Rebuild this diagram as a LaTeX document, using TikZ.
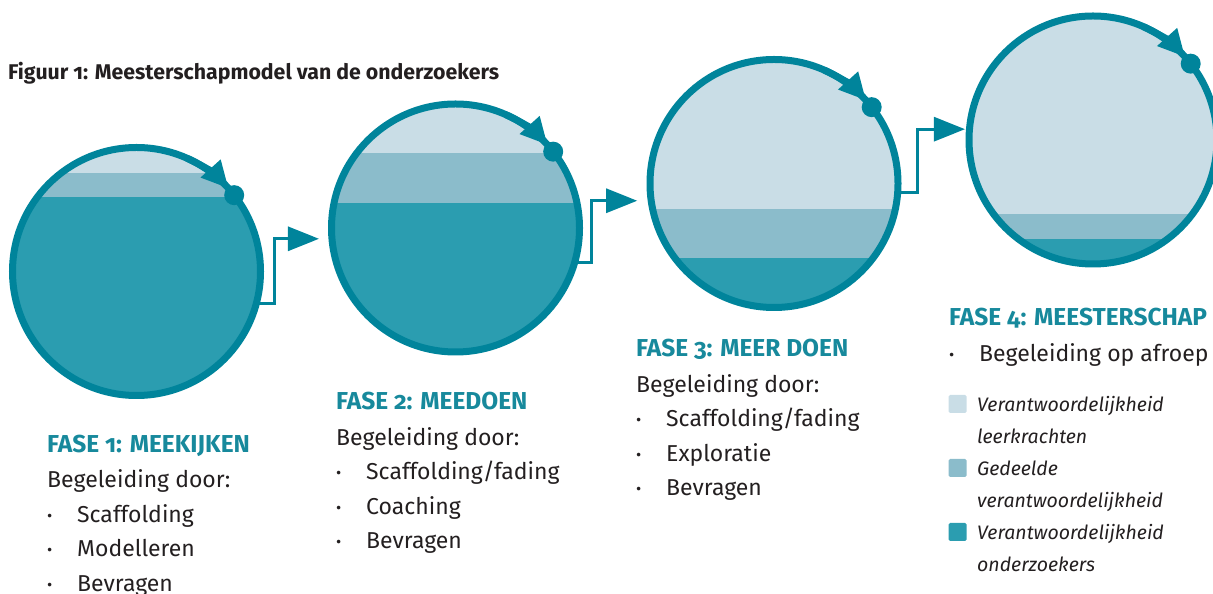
\documentclass[tikz,border=0pt]{standalone}
\usepackage{fontspec}
\setmainfont{Fira Sans}[Numbers=OldStyle]
\usepackage{tikz}
\usetikzlibrary{arrows.meta, positioning}
\definecolor{ringteal}{RGB}{0,132,155}
\definecolor{darkband}{RGB}{43,157,176}
\definecolor{midband}{RGB}{139,188,203}
\definecolor{lightband}{RGB}{201,221,230}
\definecolor{headteal}{RGB}{23,137,156}
\definecolor{textgray}{RGB}{35,31,32}
\newcommand{\fasebullet}{\makebox[30pt][l]{\fontsize{16}{16}\selectfont\raisebox{1pt}{•}}}

\begin{document}
\begin{tikzpicture}[
  x=1pt, y=1pt,
  every node/.style={inner sep=0pt, text=textgray},
  fasecircle/.style 2 args={circle, draw=ringteal, fill=lightband, line width=7pt,
               minimum size=248pt, inner sep=0pt, outer sep=0pt,
               path picture={
                 \fill[midband] ([shift={(-130,-130)}]path picture bounding box.center)
                   rectangle ([shift={(130,#1)}]path picture bounding box.center);
                 \fill[darkband] ([shift={(-130,-130)}]path picture bounding box.center)
                   rectangle ([shift={(130,#2)}]path picture bounding box.center);
               }},
  ringdot/.style={circle, fill=ringteal, minimum size=20pt, inner sep=0pt},
  ringarr/.style={-{Triangle[length=27pt, width=25pt]}, line width=7pt, ringteal},
  conn/.style={-{Triangle[length=31pt, width=24pt]}, line width=3pt, ringteal},
  fasehead/.style={font=\fontsize{24.5}{24.5}\selectfont\bfseries, text=headteal, anchor=base west},
  fasebody/.style={font=\fontsize{23}{34.5}\selectfont, align=left, anchor=base west},
  legbox/.style={rounded corners=1.5pt, minimum size=18pt, inner sep=0pt},
  legtext/.style={font=\fontsize{19.5}{32}\selectfont\itshape, align=left, anchor=base west},
  titletext/.style={font=\fontsize{21.3}{21.3}\selectfont\bfseries, anchor=base west},
]
\useasboundingbox (0,0) rectangle (1213,594);

%% ── TITLE ─────────────────────────────────────────────────────────────
\node[titletext] (title) at (8,514) {Figuur 1: Meesterschapmodel van de onderzoekers};

%% ── PHASE CIRCLES ─────────────────────────────────────────────────────
\node[fasecircle={98.5}{74.5}]   (c1) at (136.5,322.5) {};
\node[fasecircle={75}{25}]       (c2) at (455.5,366)   {};
\node[fasecircle={-25.5}{-74.5}] (c3) at (774,410.5)   {};
\node[fasecircle={-74}{-99}]     (c4) at (1093,454)    {};

%% ring arrows + dots
\draw[ringarr] (c1.66) arc[start angle=66, end angle=42, radius=124pt];
\draw[ringarr] (c2.66) arc[start angle=66, end angle=42, radius=124pt];
\draw[ringarr] (c3.66) arc[start angle=66, end angle=42, radius=124pt];
\draw[ringarr] (c4.66) arc[start angle=66, end angle=42, radius=124pt];
\node[ringdot] (dot1) at (c1.38) {};
\node[ringdot] (dot2) at (c2.38) {};
\node[ringdot] (dot3) at (c3.38) {};
\node[ringdot] (dot4) at (c4.38) {};

%% ── CONNECTORS ────────────────────────────────────────────────────────
\draw[conn, shorten >=13pt]  (c1.-15) -- ++(18,0) |- (c2.185);
\draw[conn, shorten >=14pt]  (c2.-16) -- ++(17,0) |- (c3.188);
\draw[conn, shorten >=4.5pt] (c3.-4)  -- ++(20,0) |- (c4.175);

%% ── PHASE TEXTS (body anchored at last line) ─────────────────────────
\node[fasehead] (head1) at (47,141) {FASE 1: MEEKIJKEN};
\node[fasebody] (body1) at (47,2.5)
  {Begeleiding door:\\\fasebullet Scaffolding\\\fasebullet Modelleren\\\fasebullet Bevragen};

\node[fasehead] (head2) at (336,184) {FASE 2: MEEDOEN};
\node[fasebody] (body2) at (336,45)
  {Begeleiding door:\\\fasebullet Scaffolding/fading\\\fasebullet Coaching\\\fasebullet Bevragen};

\node[fasehead] (head3) at (636,237) {FASE 3: MEER DOEN};
\node[fasebody] (body3) at (636,98)
  {Begeleiding door:\\\fasebullet Scaffolding/fading\\\fasebullet Exploratie\\\fasebullet Bevragen};

\node[fasehead] (head4) at (949,268) {FASE 4: MEESTERSCHAP};
\node[fasebody] (body4) at (949,232) {\fasebullet Begeleiding op afroep};

%% ── LEGEND ────────────────────────────────────────────────────────────
\node[legbox, fill=lightband] (leg1) at (957.5,190) {};
\node[legbox, fill=midband]   (leg2) at (957.5,126) {};
\node[legbox, fill=darkband]  (leg3) at (957.5,62)  {};
\node[legtext] (legt1) at (977,150) {Verantwoordelijkheid\\leerkrachten};
\node[legtext] (legt2) at (977,86)  {Gedeelde\\verantwoordelijkheid};
\node[legtext] (legt3) at (977,22)  {Verantwoordelijkheid\\onderzoekers};

\end{tikzpicture}
\end{document}
